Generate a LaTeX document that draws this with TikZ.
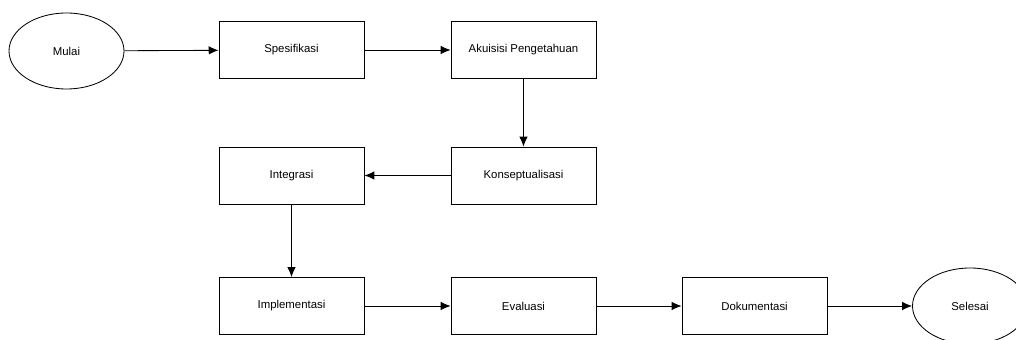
\documentclass[tikz,border=0pt]{standalone}
\usepackage{fontspec}
\setmainfont{Liberation Sans}
\usetikzlibrary{shapes.geometric,arrows.meta}
\tikzset{
	langkah/.style={draw, minimum width=3.625cm, minimum height=1.425cm, inner sep=0pt, font=\fontsize{8.1}{10}\selectfont},
	terminal/.style={draw, ellipse, minimum width=2.875cm, minimum height=1.9cm, inner sep=0pt, font=\fontsize{8.1}{10}\selectfont}
}
\begin{document}
\begin{tikzpicture}[line width=0.6pt]
			\useasboundingbox (0,0) rectangle (25.4,8.5);
			\node[terminal] at (1.6625, 7.225) (mulai) {Mulai};
			\node[langkah] at (7.2875, 7.25) (spesifikasi) {Spesifikasi};
			\node[langkah] at (13.0875, 7.25) (akuisisi) {Akuisisi Pengetahuan};
			\node[langkah] at (13.0875, 4.1125) (konsep) {Konseptualisasi};
			\node[langkah] at (7.2875, 4.1125) (integrasi) {Integrasi};
			\node[langkah] at (7.2875, 0.85) (implementasi) {Implementasi};
			\node[langkah] at (13.0875, 0.85) (evaluasi) {Evaluasi};
			\node[langkah] at (18.8625, 0.85) (dokumentasi) {Dokumentasi};
			\node[terminal] at (24.25, 0.85) (selesai) {Selesai};
			\draw [-{Latex[length=7pt,width=6pt]}] (mulai) to (spesifikasi);
			\draw [-{Latex[length=7pt,width=6pt]}] (spesifikasi) to (akuisisi);
			\draw [-{Latex[length=7pt,width=6pt]}] (akuisisi) to (konsep);
			\draw [-{Latex[length=7pt,width=6pt]}] (konsep) to (integrasi);
			\draw [-{Latex[length=7pt,width=6pt]}] (integrasi) to (implementasi);
			\draw [-{Latex[length=7pt,width=6pt]}] (implementasi) to (evaluasi);
			\draw [-{Latex[length=7pt,width=6pt]}] (evaluasi) to (dokumentasi);
			\draw [-{Latex[length=7pt,width=6pt]}] (dokumentasi) to (selesai);
		\end{tikzpicture}
\end{document}
